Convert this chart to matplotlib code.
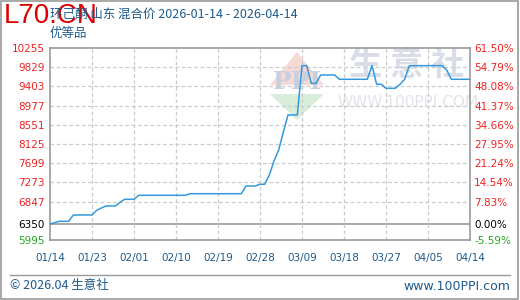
import matplotlib
matplotlib.use("Agg")
from matplotlib import pyplot as plt
from matplotlib.patches import Polygon
import numpy as np

plt.rcParams['font.family'] = ['DejaVu Sans', 'Noto Sans CJK SC']

# daily prices, 2026-01-14 .. 2026-04-14
prices = [6350, 6380, 6410, 6410, 6410, 6550, 6550, 6550, 6550, 6550,
          6654, 6705, 6750, 6750, 6750, 6830, 6898, 6898, 6898, 6987,
          6987, 6987, 6987, 6987, 6987, 6987, 6987, 6987, 6987, 6987,
          7022, 7022, 7022, 7022, 7022, 7022, 7022, 7022, 7022, 7022,
          7022, 7022, 7193, 7193, 7193, 7231, 7231, 7437, 7748, 7992,
          8392, 8769, 8769, 8769, 9863, 9863, 9472, 9472, 9656, 9656,
          9656, 9656, 9561, 9561, 9561, 9561, 9561, 9561, 9561, 9863,
          9450, 9450, 9361, 9361, 9361, 9450, 9561, 9863, 9863, 9863,
          9863, 9863, 9863, 9863, 9863, 9768, 9561, 9561, 9561, 9561,
          9561]
base = 6350
y_ticks = [5995, 6350, 6847, 7273, 7699, 8125, 8551, 8977, 9403, 9829, 10255]
pct_labels = ['-5.59%', '0.00%', '7.83%', '14.54%', '21.24%', '27.95%',
              '34.66%', '41.37%', '48.08%', '54.79%', '61.50%']
x_ticks = [0, 9, 18, 27, 36, 45, 54, 63, 72, 81, 90]
x_labels = ['01/14', '01/23', '02/01', '02/10', '02/19', '02/28',
            '03/09', '03/18', '03/27', '04/05', '04/14']

RED = '#ee2222'
GREEN = '#22aa22'
BLUE_TXT = '#1d5a8c'
LINE = '#3399dd'


def tick_color(v):
    if v > base:
        return RED
    if v == base:
        return 'black'
    return GREEN


def px(x, y):
    # pixel position (from top-left) -> figure fraction
    return [x / 520, 1 - y / 300]


fig = plt.figure(figsize=(5.2, 3.0), dpi=100)
fig.patch.set_facecolor('white')

# outer border
fig.add_artist(plt.Rectangle((0.002, 0.003), 0.995, 0.994, transform=fig.transFigure,
                             fill=False, edgecolor='#999999', linewidth=1.2))

ax = fig.add_axes([50 / 520, 60 / 300, 420 / 520, 192 / 300])
ax.set_xlim(0, 90)
ax.set_ylim(5995, 10255)
ax.set_facecolor('none')

# watermark (under the axes)
wm = fig.transFigure
fig.add_artist(Polygon([px(270, 85), px(297, 52), px(324, 85)], closed=True, transform=wm,
                       facecolor='#f7d9d5', edgecolor='none', zorder=-2))
fig.add_artist(Polygon([px(270, 94), px(324, 94), px(297, 120)], closed=True, transform=wm,
                       facecolor='#d8eedb', edgecolor='none', zorder=-2))
fig.text(297 / 520, 1 - 82 / 300, 'PPI', color='#c8d0e0', fontsize=18, fontweight='bold',
         ha='center', va='center', family='DejaVu Serif', zorder=-1)
fig.text(407 / 520, 1 - 65 / 300, '生 意 社', color='#d8dde8', fontsize=24, fontweight='bold',
         ha='center', va='center', family=['Noto Sans CJK SC'], zorder=-1)
fig.text(408 / 520, 1 - 103 / 300, 'WWW.100PPI.COM', color='#e2e4ea', fontsize=11,
         ha='center', va='center', zorder=-1)

# grid
for v in y_ticks[1:-1]:
    if v == base:
        ax.axhline(v, color='#999999', linewidth=1.2, zorder=1)
    else:
        ax.axhline(v, color='#cccccc', linewidth=0.9, linestyle=(0, (3, 2)), zorder=1)
for d in x_ticks[1:-1]:
    ax.axvline(d, color='#cccccc', linewidth=0.9, linestyle=(0, (3, 2)), zorder=1)

ax.plot(range(len(prices)), prices, color=LINE, linewidth=1.1, zorder=3)

for s in ax.spines.values():
    s.set_color('#999999')
    s.set_linewidth(1.2)

ax.set_yticks(y_ticks)
ax.set_yticklabels([str(v) for v in y_ticks], fontsize=7.5)
for lab, v in zip(ax.get_yticklabels(), y_ticks):
    lab.set_color(tick_color(v))
ax.set_xticks(x_ticks)
ax.set_xticklabels(x_labels, fontsize=7.5, color=BLUE_TXT)
ax.tick_params(length=0, pad=4)
ax.tick_params(axis='x', pad=9)

ax2 = ax.twinx()
ax2.set_ylim(ax.get_ylim())
ax2.set_yticks(y_ticks)
ax2.set_yticklabels(pct_labels, fontsize=7.5)
for lab, v in zip(ax2.get_yticklabels(), y_ticks):
    lab.set_color(tick_color(v))
ax2.tick_params(length=0, pad=3)
for s in ax2.spines.values():
    s.set_visible(False)

# titles
fig.text(4 / 520, 1 - 16 / 300, 'L70.CN', color='#dd0000', fontsize=20, va='center', ha='left',
         family='Liberation Sans')
fig.text(50 / 520, 1 - 14 / 300, '环己酮 山东 混合价 2026-01-14 - 2026-04-14', color=BLUE_TXT,
         fontsize=9, va='center', ha='left', family=['Noto Sans CJK SC', 'DejaVu Sans'])
fig.text(50 / 520, 1 - 33 / 300, '优等品', color=BLUE_TXT, fontsize=9, va='center', ha='left',
         family=['Noto Sans CJK SC'])

# footer
fig.add_artist(plt.Line2D([10 / 520, 510 / 520], [1 - 275 / 300, 1 - 275 / 300],
                          transform=fig.transFigure, color='#999999', linewidth=1))
fig.text(10 / 520, 1 - 286 / 300, '© 2026.04 生意社', color=BLUE_TXT, fontsize=9, va='center',
         ha='left', family=['Noto Sans CJK SC', 'DejaVu Sans'])
fig.text(510 / 520, 1 - 286 / 300, 'www.100PPI.com', color=BLUE_TXT, fontsize=9, va='center',
         ha='right')

fig.savefig('out.png', dpi=100, facecolor='white')
